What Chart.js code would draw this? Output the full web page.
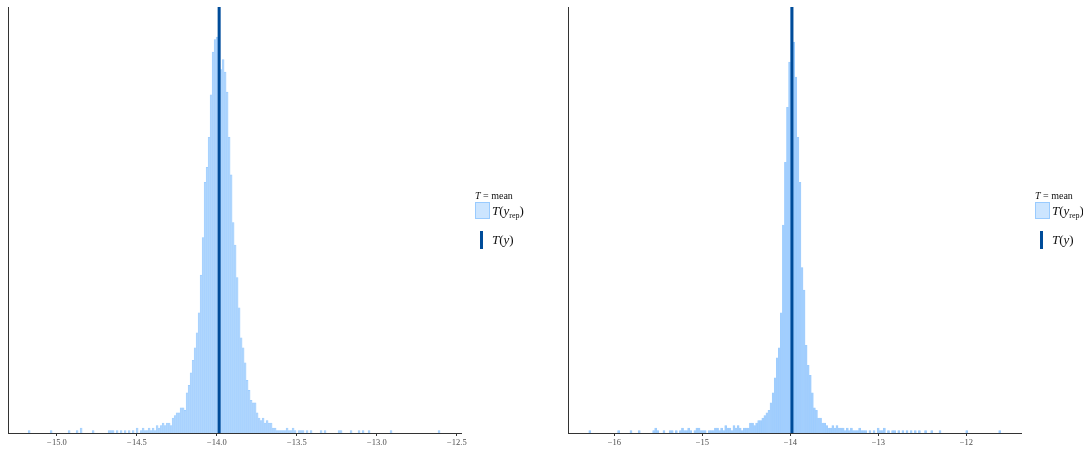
<!DOCTYPE html>
<html>
<head>
<meta charset="utf-8">
<script src="https://cdn.jsdelivr.net/npm/chart.js@4.4.1/dist/chart.umd.min.js"></script>
<style>
  html, body { margin: 0; padding: 0; background: #fff; }
  #page { position: relative; width: 1083px; height: 453px; overflow: hidden; }
  canvas { position: absolute; top: 0; }
  .lg { position: absolute; font-family: "Liberation Serif", "DejaVu Serif", serif; color: #111; white-space: nowrap; }
  .lg-title { font-size: 10px; line-height: 10px; }
  .lg-text { font-size: 13px; line-height: 15px; }
  .lg-text sub { font-size: 8px; vertical-align: -3px; line-height: 0; }
  .swatch { position: absolute; width: 15px; height: 17px; box-sizing: border-box;
            background: #cce5ff; border: 1px solid #99cbff; }
  .vkey { position: absolute; width: 3px; height: 18px; background: #004c99; }
</style>
</head>
<body>
<div id="page">
  <canvas id="statLeft" width="540" height="453" style="left:0"></canvas>
  <canvas id="statRight" width="543" height="453" style="left:540px"></canvas>

  <!-- legends -->
  <div class="lg lg-title" style="left:475px; top:191px"><i>T</i> = mean</div>
  <div class="swatch" style="left:475px; top:202px"></div>
  <div class="lg lg-text" style="left:492px; top:203px"><i>T</i>(<i>y</i><sub>rep</sub>)</div>
  <div class="vkey" style="left:480px; top:231px"></div>
  <div class="lg lg-text" style="left:492px; top:232px"><i>T</i>(<i>y</i>)</div>

  <div class="lg lg-title" style="left:1035px; top:191px"><i>T</i> = mean</div>
  <div class="swatch" style="left:1035px; top:202px"></div>
  <div class="lg lg-text" style="left:1052px; top:203px"><i>T</i>(<i>y</i><sub>rep</sub>)</div>
  <div class="vkey" style="left:1040px; top:231px"></div>
  <div class="lg lg-text" style="left:1052px; top:232px"><i>T</i>(<i>y</i>)</div>
</div>

<script>
// histogram of the replicated means, model 1
const leftBinStart = -15.18;
const leftBinWidth = 0.0125;
const leftCounts = [
  1, 0, 0, 0, 0, 0, 0, 0, 0, 0,   0, 1, 0, 0, 0, 0, 0, 0, 0, 0,
  1, 0, 0, 0, 1, 0, 2, 0, 0, 0,   0, 0, 1, 0, 0, 0, 0, 0, 0, 0,
  1, 1, 1, 0, 1, 0, 1, 0, 1, 0,   1, 0, 1, 0, 2, 0, 1, 2, 1, 1,
  2, 1, 2, 1, 3, 2, 3, 4, 3, 4,   4, 3, 6, 7, 8, 8, 10, 10, 9, 16,
  19, 24, 29, 34, 40, 48, 63, 78, 100, 106,   118, 135, 152, 157, 158, 170, 145, 149, 144, 136,
  118, 103, 84, 75, 62, 50, 38, 34, 28, 21,   17, 13, 12, 12, 8, 6, 5, 6, 4, 5,
  4, 4, 2, 2, 1, 1, 1, 1, 1, 2,   1, 1, 2, 1, 0, 1, 1, 1, 0, 1,
  0, 1, 0, 0, 0, 0, 1, 0, 1, 0,   0, 0, 0, 0, 0, 1, 1, 0, 0, 0,
  0, 1, 0, 0, 0, 1, 0, 1, 0, 0,   1, 0, 0, 0, 0, 0, 0, 0, 0, 0,
  0, 1, 0, 0, 0, 0, 0, 0, 0, 0,   0, 0, 0, 0, 0, 0, 0, 0, 0, 0,
  0, 0, 0, 0, 0, 1
];
const leftObserved = -13.986;
const leftRange = [-15.306, -12.474];
const leftTicks = [-15.0, -14.5, -14.0, -13.5, -13.0, -12.5];
const leftTickLabels = ['\u221215.0', '\u221214.5', '\u221214.0', '\u221213.5', '\u221213.0', '\u221212.5'];

// histogram of the replicated means, model 2
const rightBinStart = -16.29;
const rightBinWidth = 0.0234;
const rightCounts = [
  1, 0, 0, 0, 0, 0, 0, 0, 0, 0,   0, 0, 0, 0, 1, 0, 0, 0, 0, 0,
  1, 0, 0, 0, 1, 0, 0, 0, 0, 0,   0, 1, 2, 1, 0, 0, 1, 0, 0, 1,
  1, 0, 1, 0, 1, 2, 1, 1, 2, 1,   0, 1, 2, 2, 1, 1, 1, 0, 1, 1,
  1, 2, 2, 1, 2, 1, 3, 2, 2, 1,   3, 2, 3, 2, 1, 2, 2, 2, 4, 4,
  3, 4, 5, 5, 6, 7, 8, 9, 12, 16,   22, 30, 34, 48, 83, 108, 130, 148, 170, 156,
  142, 118, 100, 66, 57, 35, 27, 23, 16, 10,   9, 6, 6, 4, 4, 3, 2, 2, 3, 2,
  3, 2, 2, 2, 1, 2, 1, 2, 1, 1,   1, 2, 1, 1, 1, 0, 1, 0, 1, 0,
  2, 1, 1, 2, 0, 1, 0, 1, 1, 0,   1, 0, 1, 0, 1, 0, 1, 0, 1, 0,
  1, 0, 0, 1, 0, 0, 1, 0, 0, 0,   1, 0, 0, 0, 0, 0, 0, 0, 0, 0,
  0, 0, 0, 1, 0, 0, 0, 0, 0, 0,   0, 0, 0, 0, 0, 0, 0, 0, 0, 1
];
const rightObserved = -13.982;
const rightRange = [-16.526, -11.38];
const rightTicks = [-16, -15, -14, -13, -12];
const rightTickLabels = ['\u221216', '\u221215', '\u221214', '\u221213', '\u221212'];

const OUTLINE = '#99cbff';
const OBS_LINE = '#004c99';
const AXIS = '#333333';

// thin bars: the outline dominates, so the fill is taken a bit deeper than the key swatch
function makePanel(canvasId, counts, binStart, binWidth, observed, range, ticks, tickLabels, pad, fill, outlineWidth) {
    const bars = counts.map((c, i) => ({ x: binStart + (i + 0.5) * binWidth, y: c }));
    const top = Math.max(...counts);
    const obs = [{ x: observed, y: 0 }, { x: observed, y: top }];

    return new Chart(document.getElementById(canvasId), {
        type: 'bar',
        data: {
            datasets: [
                {
                    type: 'line',
                    data: obs,
                    borderColor: OBS_LINE,
                    borderWidth: 3,
                    borderCapStyle: 'butt',
                    pointRadius: 0,
                    order: 0,
                },
                {
                    type: 'bar',
                    data: bars,
                    backgroundColor: fill,
                    borderColor: OUTLINE,
                    borderWidth: outlineWidth,
                    borderSkipped: 'bottom',
                    barPercentage: 1,
                    categoryPercentage: 1,
                    order: 1,
                },
            ],
        },
        options: {
            responsive: false,
            animation: false,
            devicePixelRatio: 1,
            layout: { padding: pad },
            plugins: { legend: { display: false }, tooltip: { enabled: false } },
            scales: {
                x: {
                    type: 'linear',
                    min: range[0],
                    max: range[1],
                    offset: false,
                    grid: { display: true, drawOnChartArea: false, drawTicks: true, tickLength: 3, color: AXIS, offset: false },
                    border: { display: true, color: AXIS, width: 1 },
                    ticks: {
                        autoSkip: false,
                        maxRotation: 0,
                        padding: 2,
                        color: '#4d4d4d',
                        font: { family: 'Liberation Serif', size: 8.5 },
                        callback: (v) => tickLabels[ticks.indexOf(v)],
                    },
                    afterBuildTicks: (s) => { s.ticks = ticks.map(v => ({ value: v })); },
                    afterFit: (s) => { s.height = 20; },
                },
                y: {
                    min: 0,
                    max: top,
                    ticks: { display: false },
                    grid: { display: false, drawTicks: false },
                    border: { display: true, color: AXIS, width: 1 },
                    afterFit: (s) => { s.width = 0; },
                },
            },
        },
    });
}

makePanel('statLeft', leftCounts, leftBinStart, leftBinWidth, leftObserved, leftRange,
    leftTicks, leftTickLabels, { left: 8, top: 7, right: 79, bottom: 0 }, '#b3d7fd', 0.6);
makePanel('statRight', rightCounts, rightBinStart, rightBinWidth, rightObserved, rightRange,
    rightTicks, rightTickLabels, { left: 28, top: 7, right: 62, bottom: 0 }, '#a2cefd', 0.5);
</script>
</body>
</html>
